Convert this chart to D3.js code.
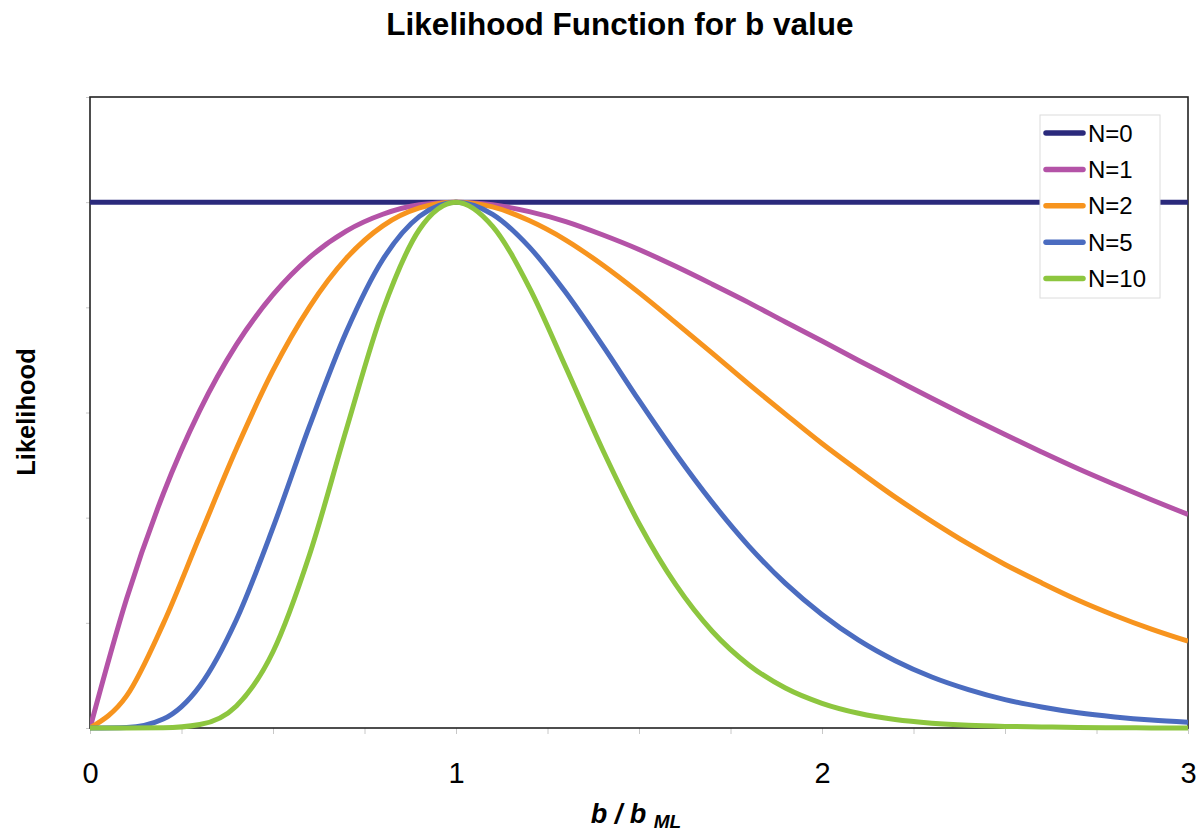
<!DOCTYPE html>
<html><head><meta charset="utf-8">
<script src="https://cdn.jsdelivr.net/npm/d3@7"></script>
<style>body{margin:0;background:#fff;} svg{display:block;font-family:Arial,"Liberation Sans",sans-serif;}</style>
</head><body>
<svg id="c" width="1199" height="837"></svg>
<script>
const xValues = [0,0.1,0.2,0.3,0.4,0.5,0.6,0.7,0.8,0.9,1.0,1.1,1.2,1.3,1.4,1.5,1.6,1.7,1.8,1.9,2.0,2.1,2.2,2.3,2.4,2.5,2.6,2.7,2.8,2.9,3.0];
const seriesNames = ["N=0","N=1","N=2","N=5","N=10"];
const n0 = [1,1,1,1,1,1,1,1,1,1,1,1,1,1,1,1,1,1,1,1,1,1,1,1,1,1,1,1,1,1,1];
const n1 = [0,0.246,0.445,0.604,0.729,0.824,0.895,0.945,0.977,0.995,1,0.995,0.982,0.963,0.938,0.910,0.878,0.844,0.809,0.772,0.736,0.699,0.663,0.627,0.592,0.558,0.525,0.493,0.463,0.434,0.406];
const n2 = [0,0.061,0.198,0.365,0.531,0.680,0.801,0.893,0.955,0.989,1,0.991,0.965,0.928,0.881,0.828,0.771,0.713,0.654,0.597,0.541,0.489,0.439,0.393,0.350,0.311,0.276,0.243,0.214,0.188,0.165];
const n5 = [0,0.001,0.017,0.080,0.206,0.381,0.575,0.753,0.891,0.973,1,0.977,0.915,0.828,0.728,0.623,0.522,0.429,0.346,0.275,0.216,0.167,0.128,0.097,0.073,0.054,0.040,0.029,0.021,0.015,0.011];
const n10 = [0,0,0.0003,0.0065,0.042,0.145,0.330,0.567,0.794,0.948,1,0.954,0.838,0.686,0.530,0.389,0.273,0.184,0.120,0.076,0.047,0.028,0.016,0.009,0.005,0.003,0.002,0.001,0.0005,0.0002,0.0001];
const seriesValues = [n0,n1,n2,n5,n10];
const seriesColors = ["#2b2a7c","#b453a7","#f7941e","#4b6cc0","#8dc63f"];
const xTickLabels = [0,1,2,3];
const xMinorTicks = d3.range(0,3.001,0.25);
const yTicks = [0,0.2,0.4,0.6,0.8,1.0,1.2];

const svg = d3.select("#c");
const L=90,R=1188,T=97,B=728;
const x = d3.scaleLinear().domain([0,3]).range([L,R]);
const y = d3.scaleLinear().domain([0,1.2]).range([B,T]);

svg.append("g").attr("transform",`translate(0,${B})`)
  .call(d3.axisBottom(x).tickValues(xMinorTicks).tickSize(6).tickFormat(""))
  .call(g=>{g.select(".domain").remove(); g.selectAll("line").attr("stroke","#c8c8c8").attr("stroke-width",1);});
svg.append("g").attr("transform",`translate(${L},0)`)
  .call(d3.axisLeft(y).tickValues(yTicks).tickSize(4).tickFormat(""))
  .call(g=>{g.select(".domain").remove(); g.selectAll("line").attr("stroke","#c8c8c8").attr("stroke-width",1);});
svg.append("g").attr("transform",`translate(0,${B})`)
  .call(d3.axisBottom(x).tickValues(xTickLabels).tickSize(0).tickPadding(34).tickFormat(d3.format("d")))
  .call(g=>{g.select(".domain").remove(); g.selectAll("text").attr("font-size",29).attr("fill","#000").attr("font-family","Arial, 'Liberation Sans', sans-serif");});

svg.append("rect").attr("x",L).attr("y",T).attr("width",R-L).attr("height",B-T)
  .attr("fill","none").attr("stroke","#222").attr("stroke-width",1.6);

const line = d3.line().x((d,i)=>x(xValues[i])).y(d=>y(d)).curve(d3.curveMonotoneX);
svg.append("clipPath").attr("id","cp").append("rect").attr("x",L).attr("y",T).attr("width",R-L).attr("height",B-T+3);
seriesValues.forEach((vals,k)=>{
  svg.append("path").datum(vals).attr("d",line).attr("fill","none")
    .attr("stroke",seriesColors[k]).attr("stroke-width",5).attr("stroke-linejoin","round")
    .attr("clip-path","url(#cp)");
});

const lg = svg.append("g").attr("transform","translate(1040,115)");
lg.append("rect").attr("width",120).attr("height",183).attr("fill","#fff").attr("stroke","#dcdcdc").attr("stroke-width",1);
seriesNames.forEach((n,i)=>{
  const yy = 18+i*36.4;
  lg.append("line").attr("x1",6).attr("x2",43).attr("y1",yy).attr("y2",yy).attr("stroke",seriesColors[i]).attr("stroke-width",5.5).attr("stroke-linecap","round");
  lg.append("text").attr("x",48).attr("y",yy+8.5).attr("font-size",24).attr("fill","#000").text(n);
});

svg.append("text").attr("x",620).attr("y",35).attr("text-anchor","middle").attr("font-size",31.5).attr("font-weight","bold").text("Likelihood Function for b value");
svg.append("text").attr("transform","translate(35,412) rotate(-90)").attr("text-anchor","middle").attr("font-size",25.5).attr("font-weight","bold").text("Likelihood");
const xl = svg.append("text").attr("x",636).attr("y",823).attr("text-anchor","middle").attr("font-size",27).attr("font-weight","bold").attr("font-style","italic");
xl.append("tspan").text("b / b ");
xl.append("tspan").attr("font-size",19).attr("dy",5).text("ML");
</script>
</body></html>
